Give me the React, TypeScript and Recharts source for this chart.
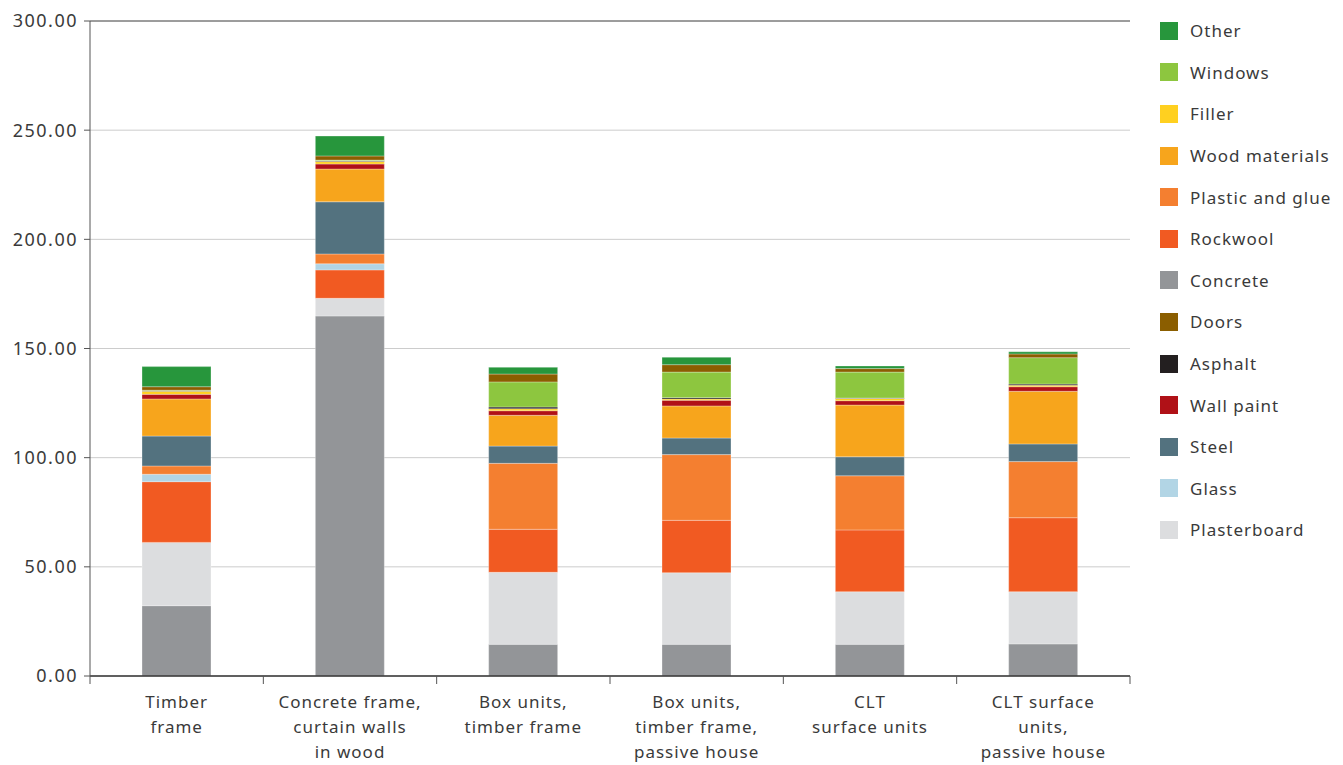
import {
    BarChart,
    Bar,
    XAxis,
    YAxis,
    CartesianGrid,
    Legend,
    ReferenceLine,
} from "recharts";

const categories = [
    "Timber\nframe",
    "Concrete frame,\ncurtain walls\nin wood",
    "Box units,\ntimber frame",
    "Box units,\ntimber frame,\npassive house",
    "CLT\nsurface units",
    "CLT surface\nunits,\npassive house",
];

// stacked bottom -> top
const concrete = [32.2, 164.9, 14.5, 14.5, 14.5, 14.7];
const plasterboard = [29.0, 8.1, 33.0, 32.8, 24.1, 23.9];
const rockwool = [27.8, 13.0, 19.7, 24.0, 28.3, 33.9];
const glass = [3.4, 2.8, 0, 0, 0, 0];
const plasticGlue = [3.8, 4.5, 30.2, 30.1, 24.8, 25.7];
const steel = [13.7, 23.9, 7.9, 7.6, 8.7, 8.1];
const woodMaterials = [17.0, 15.0, 14.1, 14.7, 23.7, 24.1];
const wallPaint = [2.1, 2.3, 2.1, 2.6, 2.0, 2.1];
const filler = [1.4, 1.1, 0.9, 0.6, 1.0, 0.7];
const asphalt = [0.3, 0.4, 0.8, 0.6, 0.2, 0.5];
const windows = [0.2, 0.3, 11.5, 11.7, 11.9, 12.1];
const doors = [1.6, 1.9, 3.6, 3.4, 1.6, 1.7];
const other = [9.2, 9.1, 3.1, 3.4, 1.2, 1.0];

const yTicks = [0, 50, 100, 150, 200, 250, 300];

const series = [
    { key: "Concrete", values: concrete, color: "#939598" },
    { key: "Plasterboard", values: plasterboard, color: "#dcdddf" },
    { key: "Rockwool", values: rockwool, color: "#f15a22" },
    { key: "Glass", values: glass, color: "#b2d5e5" },
    { key: "Plastic and glue", values: plasticGlue, color: "#f47f30" },
    { key: "Steel", values: steel, color: "#53727f" },
    { key: "Wood materials", values: woodMaterials, color: "#f7a51c" },
    { key: "Wall paint", values: wallPaint, color: "#b01117" },
    { key: "Filler", values: filler, color: "#ffd020" },
    { key: "Asphalt", values: asphalt, color: "#231f20" },
    { key: "Windows", values: windows, color: "#8dc63f" },
    { key: "Doors", values: doors, color: "#8b5e00" },
    { key: "Other", values: other, color: "#27963c" },
];

const legendOrder = [
    "Other",
    "Windows",
    "Filler",
    "Wood materials",
    "Plastic and glue",
    "Rockwool",
    "Concrete",
    "Doors",
    "Asphalt",
    "Wall paint",
    "Steel",
    "Glass",
    "Plasterboard",
];

const chartData = categories.map((name, i) => {
    const row: Record<string, number | string> = { name };
    series.forEach((s) => {
        row[s.key] = s.values[i];
    });
    return row;
});

const FONT = "'Noto Sans', sans-serif";
const TEXT = "#3a3a3a";
const WIDTH = 1335;
const HEIGHT = 757;
const LEGEND_W = 190;
const MARGIN = { top: 13, right: 23, bottom: 9, left: 10 };
const Y_WIDTH = 72;
const plotWidth = WIDTH - MARGIN.left - MARGIN.right - Y_WIDTH - LEGEND_W;
const band = plotWidth / categories.length;

const CategoryTick = (props: any) => {
    const { x, y, payload, index } = props;
    const lines = String(payload.value).split("\n");
    return (
        <g>
            <line x1={x - band / 2} x2={x - band / 2} y1={y - 8} y2={y} stroke="#555" />
            {index === categories.length - 1 && (
                <line x1={x + band / 2} x2={x + band / 2} y1={y - 8} y2={y} stroke="#555" />
            )}
            <text
                x={x}
                y={y + 24}
                textAnchor="middle"
                fill={TEXT}
                fontSize={17}
                fontFamily={FONT}
                letterSpacing={1}
            >
                {lines.map((l, i) => (
                    <tspan key={i} x={x} dy={i === 0 ? 0 : 25}>
                        {l}
                    </tspan>
                ))}
            </text>
        </g>
    );
};

const colorOf = (k: string) => series.find((s) => s.key === k)?.color ?? "#000";

const LegendContent = () => (
    <div style={{ fontFamily: FONT }}>
        {legendOrder.map((k) => (
            <div
                key={k}
                style={{
                    display: "flex",
                    alignItems: "center",
                    height: 41.6,
                }}
            >
                <span
                    style={{
                        width: 18,
                        height: 18,
                        background: colorOf(k),
                        display: "inline-block",
                        marginRight: 12,
                    }}
                />
                <span style={{ fontSize: 17, color: TEXT, letterSpacing: 1 }}>{k}</span>
            </div>
        ))}
    </div>
);

const App = () => {
    return (
        <BarChart
            width={WIDTH}
            height={HEIGHT}
            data={chartData}
            margin={MARGIN}
            barSize={69}
        >
            <CartesianGrid vertical={false} stroke="#cccccc" />
            <XAxis
                dataKey="name"
                interval={0}
                height={80}
                tickLine={false}
                axisLine={{ stroke: "#333", strokeWidth: 1.5 }}
                tick={<CategoryTick />}
            />
            <YAxis
                width={Y_WIDTH}
                domain={[0, 300]}
                ticks={yTicks}
                tickFormatter={(v: number) => v.toFixed(2)}
                tickSize={6}
                tickMargin={6}
                axisLine={{ stroke: "#555" }}
                tickLine={{ stroke: "#555" }}
                tick={{ fill: TEXT, fontSize: 18, fontFamily: FONT, letterSpacing: 1.5 }}
            />
            <ReferenceLine y={300} stroke="#555" />
            <Legend
                layout="vertical"
                align="right"
                verticalAlign="top"
                content={<LegendContent />}
                wrapperStyle={{ left: 1152, top: 2, width: LEGEND_W }}
            />
            {series.map((s) => (
                <Bar
                    key={s.key}
                    dataKey={s.key}
                    stackId="a"
                    fill={s.color}
                    stroke="rgba(255,255,255,0.5)"
                    strokeWidth={0.6}
                    isAnimationActive={false}
                />
            ))}
        </BarChart>
    );
};

export default App;
